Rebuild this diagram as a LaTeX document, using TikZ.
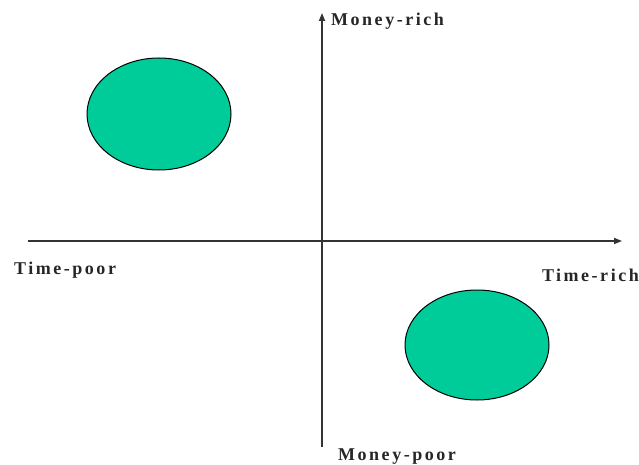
\documentclass[tikz,border=0pt]{standalone}
\usepackage{fontspec}
\setmainfont{Liberation Serif}
\newfontfamily\lblfont[LetterSpace=14]{Liberation Serif}
\usetikzlibrary{arrows.meta,shapes.geometric}
\definecolor{blobgreen}{HTML}{00CC99}
\definecolor{axisgray}{HTML}{333333}
\begin{document}
\begin{tikzpicture}[x=1pt,y=-1pt,
  axisline/.style={draw=axisgray,line width=1.6pt},
  blob/.style={ellipse,draw=black,line width=1pt,fill=blobgreen,minimum width=144pt,minimum height=112pt,inner sep=0pt},
  lbl/.style={font=\lblfont\bfseries\fontsize{18}{20}\selectfont,text=black!85,inner sep=0pt}]
\useasboundingbox (0,0) rectangle (639,465);
\coordinate (xl) at (28,241);
\coordinate (xr) at (622,241);
\coordinate (yb) at (322,447);
\coordinate (yt) at (322,13);
\draw[axisline,-{Triangle[length=8pt,width=6pt]}] (xl) -- (xr);
\draw[axisline,-{Triangle[length=8pt,width=6pt]}] (yb) -- (yt);
\node[blob] (b1) at (159,114) {};
\node[blob,minimum height=110pt] (b2) at (477,345) {};
\node[lbl,anchor=base west] (mr) at (331,26) {Money-rich};
\node[lbl,anchor=base west] (tp) at (14,274) {Time-poor};
\node[lbl,anchor=base east] (tr) at (639,281) {Time-rich};
\node[lbl,anchor=base west] (mp) at (338,460) {Money-poor};
\end{tikzpicture}
\end{document}
